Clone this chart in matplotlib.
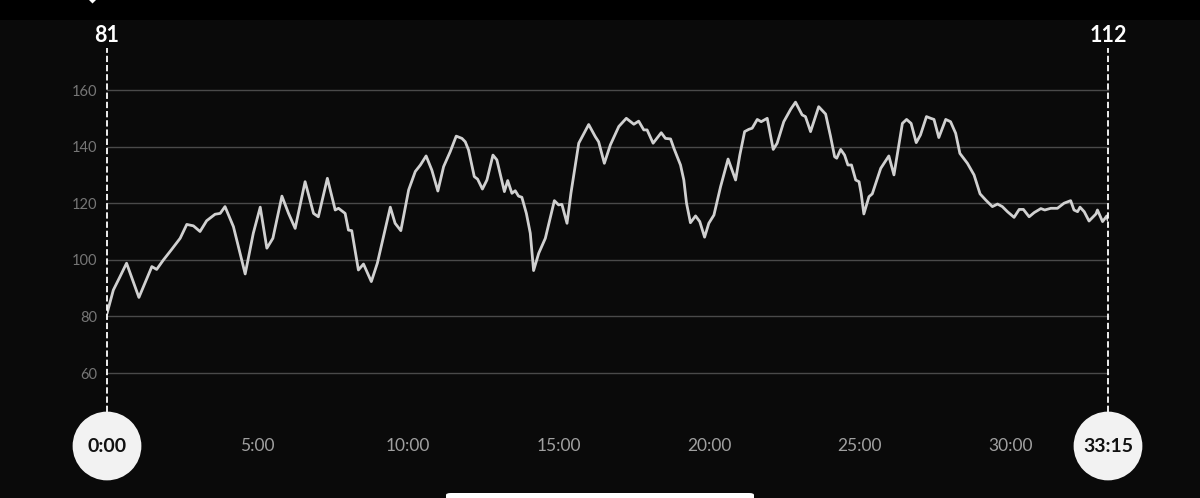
import matplotlib
matplotlib.use("Agg")
import matplotlib.pyplot as plt
from matplotlib.patches import FancyBboxPatch, Rectangle, Polygon

# ---- data (minutes, bpm) ----
minutes = [0.00, 0.21, 0.43, 0.65, 1.06, 1.49, 1.65, 1.87, 2.15, 2.43, 2.65, 2.87, 3.09, 3.31,
           3.59, 3.76, 3.92, 4.20, 4.59, 4.86, 5.09, 5.31, 5.51, 5.81, 6.03, 6.25, 6.58, 6.86,
           7.02, 7.32, 7.58, 7.69, 7.91, 8.02, 8.13, 8.35, 8.52, 8.78, 8.98, 9.41, 9.57, 9.76,
           10.02, 10.24, 10.41, 10.60, 10.79, 10.99, 11.18, 11.40, 11.60, 11.79, 11.90, 12.01,
           12.20, 12.31, 12.47, 12.62, 12.82, 12.95, 13.20, 13.31, 13.45, 13.56, 13.67, 13.78,
           13.93, 14.06, 14.17, 14.34, 14.56, 14.86, 15.00, 15.11, 15.28, 15.41, 15.67, 16.00,
           16.22, 16.33, 16.52, 16.72, 17.00, 17.25, 17.50, 17.66, 17.83, 17.94, 18.14, 18.41,
           18.55, 18.72, 18.83, 19.05, 19.16, 19.25, 19.38, 19.55, 19.69, 19.85, 19.99, 20.16,
           20.38, 20.63, 20.88, 21.02, 21.18, 21.32, 21.43, 21.60, 21.73, 21.93, 22.13, 22.26,
           22.48, 22.71, 22.87, 23.09, 23.20, 23.37, 23.64, 23.87, 24.03, 24.17, 24.24, 24.37,
           24.50, 24.61, 24.73, 24.87, 24.98, 25.05, 25.14, 25.31, 25.42, 25.70, 25.97, 26.14,
           26.42, 26.56, 26.71, 26.88, 27.02, 27.22, 27.36, 27.47, 27.63, 27.86, 28.02, 28.19,
           28.33, 28.58, 28.80, 29.00, 29.19, 29.41, 29.58, 29.74, 29.91, 30.13, 30.30, 30.44,
           30.63, 30.80, 31.02, 31.15, 31.35, 31.57, 31.79, 32.01, 32.12, 32.24, 32.32, 32.46,
           32.62, 32.85, 32.90, 33.07, 33.21, 33.25]
bpm = [81, 89.3, 94, 98.8, 86.7, 97.6, 96.6, 99.9, 103.7, 107.6, 112.5, 112, 110, 113.8,
       116.1, 116.4, 118.8, 111.7, 95, 109.4, 118.6, 104.1, 107.6, 122.5, 116.4, 111.1, 127.6, 116.4,
       115.2, 128.8, 117.6, 118.2, 116.4, 110.5, 110.3, 96.4, 98.5, 92.3, 98.8, 118.6, 112.9, 110.3,
       124.7, 131.2, 133.5, 136.7, 131.7, 124.3, 132.9, 138.2, 143.7, 142.9, 141.7, 138.8,
       129.4, 128.5, 125, 128.2, 137, 135.3, 124.1, 128, 123.5, 124.4, 122.5, 122.1,
       116.4, 109.4, 96.2, 102.3, 107.6, 120.9, 119.4, 119.6, 112.9, 123.5, 141.2, 147.8,
       143.5, 141.7, 134.1, 140.6, 147.1, 150, 147.9, 149, 145.9, 145.9, 141.2, 144.9,
       142.9, 142.7, 139.4, 133.5, 128.2, 120, 113.1, 115.5, 113.5, 108, 112.9, 115.8,
       125.8, 135.6, 128.2, 137, 145.3, 146.1, 146.5, 149.6, 148.8, 150, 139, 141.2,
       148.8, 153.2, 155.7, 151.2, 150.6, 145.3, 154.1, 151.5, 143.8, 136.4, 135.9, 139,
       137, 133.5, 133.5, 128.2, 127.6, 123.5, 116.2, 122.3, 123.3, 132.3, 136.7, 130,
       148.2, 149.6, 148.2, 141.4, 144.1, 150.6, 150, 149.6, 143.2, 149.6, 148.8, 144.7,
       137.6, 134.1, 130, 123.3, 121.1, 118.8, 119.7, 118.8, 117, 115, 117.8, 117.8,
       115.2, 116.7, 118.1, 117.6, 118.2, 118.2, 120, 120.9, 117.6, 117, 118.6, 117,
       113.7, 116.2, 117.6, 113.5, 115.5, 114]

y_ticks = [60, 80, 100, 120, 140, 160]
x_ticks = [5, 10, 15, 20, 25, 30]
x_tick_labels = ["5:00", "10:00", "15:00", "20:00", "25:00", "30:00"]
end_times = [0.0, 33.25]
end_time_labels = ["0:00", "33:15"]
end_value_labels = ["81", "112"]

BG = "#0a0a0a"
W, H = 1200, 498

fig = plt.figure(figsize=(W / 100, H / 100), dpi=100, facecolor=BG)
# top status bar
fig.patches.append(Rectangle((0, (H - 20) / H), 1, 20 / H, transform=fig.transFigure,
                             facecolor="black", edgecolor="none", zorder=0))
# tiny chevron at the top
fig.patches.append(Polygon([(89 / W, 1.0), (96 / W, 1.0), (92.5 / W, (H - 3.5) / H)],
                           closed=True, transform=fig.transFigure, facecolor="white",
                           edgecolor="none", zorder=1))
# home indicator
fig.patches.append(FancyBboxPatch((446 / W, -4 / H), 308 / W, 9 / H,
                                  boxstyle="round,pad=0,rounding_size=0.004",
                                  transform=fig.transFigure, facecolor="white",
                                  edgecolor="none", zorder=1))

ax = fig.add_axes([107 / W, (H - 373) / H, 1001 / W, 283 / H])
ax.set_facecolor("none")
ax.set_xlim(0, 33.25)
ax.set_ylim(60, 160)
for s in ax.spines.values():
    s.set_visible(False)

for yv in y_ticks:
    ax.axhline(yv, color="#4a4a4a", lw=1.0, zorder=1, clip_on=False)

ax.set_yticks(y_ticks)
ax.set_yticklabels([str(v) for v in y_ticks], fontsize=10.5, color="#767676",
                   family="Lato")
ax.tick_params(axis="y", length=0, pad=7)

ax.set_xticks(x_ticks)
ax.set_xticklabels(x_tick_labels, fontsize=12.5, color="#a0a0a0", family="Lato")
ax.tick_params(axis="x", length=0, pad=(446 - 373) / 1.3889)
for lab in ax.get_xticklabels():
    lab.set_va("center")

ax.plot(minutes, bpm, color="#d0d0d0", lw=2.0, solid_joinstyle="round",
        solid_capstyle="round", zorder=3)

tr = ax.get_xaxis_transform()
top_frac = (373 - 48) / 283
bot_frac = (373 - 412) / 283
circ_frac = (373 - 446) / 283
lab_frac = (373 - 35) / 283
for t, tl, vl in zip(end_times, end_time_labels, end_value_labels):
    ax.plot([t, t], [bot_frac, top_frac], transform=tr, color="white", lw=1.3,
            dashes=(3.5, 1.6), clip_on=False, zorder=4)
    ax.scatter([t], [circ_frac], s=49.5 ** 2, color="#f2f2f2", transform=tr,
               clip_on=False, zorder=5, edgecolors="none")
    ax.text(t, circ_frac, tl, transform=tr, ha="center", va="center", fontsize=14,
            fontweight="bold", color="#111111", family="Lato", zorder=6, clip_on=False)
    ax.text(t, lab_frac, vl, transform=tr, ha="center", va="center", fontsize=15.5,
            fontweight="bold", color="white", family="Lato", zorder=6, clip_on=False)

fig.savefig("out.png", dpi=100, facecolor=BG)
